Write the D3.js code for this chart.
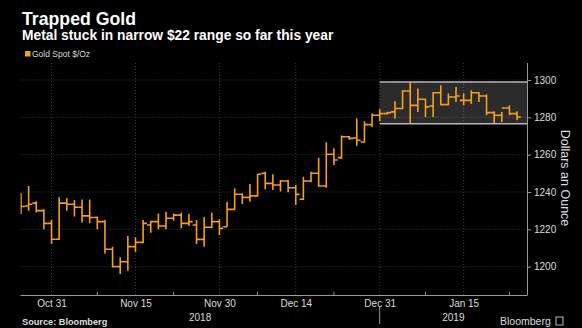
<!DOCTYPE html>
<html>
<head>
<meta charset="utf-8">
<script src="https://cdn.jsdelivr.net/npm/d3@7"></script>
<style>
  html, body { margin: 0; padding: 0; background: #000; }
  svg { display: block; font-family: "Liberation Sans", Arial, sans-serif; }
</style>
</head>
<body>
<svg id="chart" width="582" height="328"></svg>
<script>
// Gold spot, daily bars (weekdays)
var days = [
  "2018-10-25","2018-10-26","2018-10-29","2018-10-30","2018-10-31","2018-11-01","2018-11-02",
  "2018-11-05","2018-11-06","2018-11-07","2018-11-08","2018-11-09","2018-11-12","2018-11-13",
  "2018-11-14","2018-11-15","2018-11-16","2018-11-19","2018-11-20","2018-11-21","2018-11-22",
  "2018-11-23","2018-11-26","2018-11-27","2018-11-28","2018-11-29","2018-11-30","2018-12-03",
  "2018-12-04","2018-12-05","2018-12-06","2018-12-07","2018-12-10","2018-12-11","2018-12-12",
  "2018-12-13","2018-12-14","2018-12-17","2018-12-18","2018-12-19","2018-12-20","2018-12-21",
  "2018-12-24","2018-12-25","2018-12-26","2018-12-27","2018-12-28","2018-12-31","2019-01-01",
  "2019-01-02","2019-01-03","2019-01-04","2019-01-07","2019-01-08","2019-01-09","2019-01-10",
  "2019-01-11","2019-01-14","2019-01-15","2019-01-16","2019-01-17","2019-01-18","2019-01-21",
  "2019-01-22","2019-01-23","2019-01-24"
];
var opens = [
  1233, 1232.5, 1234, 1230, 1223.2, 1214.7, 1234,
  1233.4, 1231.8, 1227.2, 1226.3, 1224.1, 1209.3, 1200,
  1202.6, 1210.7, 1213, 1222.3, 1224.1, 1221.8, 1225.9,
  1227.6, 1223.2, 1222.3, 1214.6, 1221.1, 1224.1, 1221.4,
  1230.7, 1238.8, 1237.1, 1237.9, 1250, 1244.6, 1243.7,
  1245.9, 1242.3, 1236.1, 1245.9, 1250, 1243.2, 1260.2,
  1258.4, 1269.6, 1268.9, 1266.8, 1276.1, 1281.1, 1282,
  1282.9, 1284.7, 1294.1, 1286.4, 1289.7, 1286.1, 1293.2,
  1286.8, 1290.9, 1289.1, 1289.1, 1293.2, 1291.4, 1282.5,
  1281.1, 1285, 1282
];
var highs = [
  1239.3, 1243.2, 1235, 1230.7, 1225, 1237.2, 1236.6,
  1235.7, 1236, 1236, 1226.8, 1225, 1210.7, 1205,
  1216.4, 1215.7, 1225, 1224.6, 1228.5, 1229.4, 1228.5,
  1228.9, 1228.2, 1225, 1226.4, 1228.9, 1225.4, 1234.8,
  1242, 1239.3, 1244.3, 1249.6, 1250.9, 1249.5, 1246.4,
  1246.4, 1243.7, 1248.2, 1250.9, 1258.4, 1266.6, 1263.4,
  1270.2, 1270, 1279.3, 1277.9, 1282, 1284.3, 1283,
  1288.6, 1294.5, 1298.9, 1295.4, 1290, 1293.6, 1297.2,
  1292.7, 1296.3, 1292.7, 1294.5, 1293.6, 1292.2, 1283.2,
  1282.9, 1286.4, 1283.2
];
var lows = [
  1228.2, 1230, 1229, 1220, 1212.2, 1214.3, 1230,
  1226.8, 1223.6, 1223.2, 1220, 1207.1, 1199.6, 1196,
  1197.8, 1208, 1212.5, 1218.2, 1220, 1220, 1224.6,
  1220.5, 1221.8, 1212.1, 1210.7, 1220.5, 1217, 1221.4,
  1230.4, 1233.6, 1234.8, 1237.5, 1241.4, 1241, 1240.2,
  1239.8, 1233, 1235.7, 1245.2, 1242.8, 1242.3, 1254.5,
  1257.7, 1268, 1264.7, 1266.4, 1274.8, 1277.9, 1281.5,
  1279.3, 1284.3, 1276.6, 1282.9, 1280.2, 1280.2, 1286.4,
  1286.4, 1288.2, 1286.4, 1287.3, 1288.2, 1281.1, 1276.6,
  1277.5, 1281.1, 1278.4
];
var closes = [
  1232.2, 1233.4, 1230, 1223.2, 1214.7, 1234, 1233.4,
  1231.8, 1227.2, 1226.3, 1224.1, 1209.3, 1200, 1202.6,
  1210.7, 1213, 1223.2, 1224.1, 1221.8, 1225.9, 1227.6,
  1223.2, 1224.1, 1214.6, 1221.1, 1224.1, 1220.5, 1230.7,
  1238.8, 1237.1, 1237.9, 1249.5, 1244.6, 1243.7, 1245.9,
  1242.3, 1238.7, 1245.9, 1250, 1243.2, 1260.2, 1257.1,
  1269.6, 1268.7, 1267.7, 1276.1, 1281.1, 1282, 1282.5,
  1284.7, 1294.1, 1286.4, 1289.7, 1285.6, 1293.2, 1286.8,
  1290.9, 1291.4, 1289.1, 1293.2, 1291.4, 1282.5, 1281.1,
  1285, 1282, 1280.2
];

var tickDays = ["2018-10-31","2018-11-15","2018-11-30","2018-12-14","2018-12-31","2019-01-15"];
var minorDays = ["2018-11-08","2018-11-22","2018-12-07","2018-12-21","2019-01-08","2019-01-23"];
var yTicks = [1200, 1220, 1240, 1260, 1280, 1300];
var rangeFrom = "2018-12-31"; // box covers the new year's trading range

var orange = "#f6a01c";

var svg = d3.select("#chart");

var plot = { left: 20.5, right: 527, top: 63, bottom: 295 };

var x = d3.scaleLinear().domain([0, 66.3]).range([21, plot.right]);
var y = d3.scaleLinear().domain([1184.8, 1309.1]).range([plot.bottom, plot.top]);
var hw = (x(1) - x(0)) / 2;

var bars = days.map(function (d, i) {
    return { day: d, i: i, o: opens[i], h: highs[i], l: lows[i], c: closes[i] };
});

// Titles
svg.append("text").attr("x", 22).attr("y", 25)
    .attr("fill", "#fff").attr("font-weight", "bold").attr("font-size", 17.7)
    .text("Trapped Gold");
svg.append("text").attr("x", 22).attr("y", 40)
    .attr("fill", "#fff").attr("font-weight", "bold").attr("font-size", 13.8)
    .text("Metal stuck in narrow $22 range so far this year");

// Legend
svg.append("rect").attr("x", 25).attr("y", 51).attr("width", 5.5).attr("height", 5.5).attr("fill", orange);
svg.append("text").attr("x", 32).attr("y", 57)
    .attr("fill", "#ddd").attr("font-size", 8.5)
    .text("Gold Spot $/Oz");

// Grid
var grid = svg.append("g").attr("stroke", "#3c3c3c").attr("stroke-dasharray", "1,2");
grid.selectAll("line.h").data(yTicks).enter().append("line")
    .attr("x1", plot.left).attr("x2", plot.right)
    .attr("y1", function (d) { return y(d); }).attr("y2", function (d) { return y(d); });
grid.selectAll("line.v").data(tickDays).enter().append("line")
    .attr("x1", function (d) { return x(days.indexOf(d)); })
    .attr("x2", function (d) { return x(days.indexOf(d)); })
    .attr("y1", plot.top).attr("y2", plot.bottom);

// Range box since the start of the year
var inRange = bars.filter(function (b) { return b.day > rangeFrom; });
var boxTop = y(d3.max(inRange, function (b) { return b.h; }));
var boxBot = y(d3.min(inRange, function (b) { return b.l; }));
var bx = x(days.indexOf(rangeFrom));
svg.append("rect").attr("x", bx).attr("y", boxTop)
    .attr("width", plot.right - bx).attr("height", boxBot - boxTop)
    .attr("fill", "#ffffff").attr("fill-opacity", 0.17);
[boxTop, boxBot].forEach(function (yy) {
    svg.append("line").attr("x1", bx).attr("x2", plot.right)
        .attr("y1", yy).attr("y2", yy)
        .attr("stroke", "#b8b8b8").attr("stroke-width", 1.5);
});

// Bars: high-low stem, open tick left, close tick right
svg.append("clipPath").attr("id", "clip").append("rect")
    .attr("x", plot.left).attr("y", plot.top)
    .attr("width", plot.right - plot.left).attr("height", plot.bottom - plot.top);

svg.append("g").attr("clip-path", "url(#clip)")
    .selectAll("path").data(bars).enter().append("path")
    .attr("d", function (b) {
        var cx = x(b.i);
        return "M" + cx + "," + y(b.h) + "V" + y(b.l) +
            "M" + (cx - hw) + "," + y(b.o) + "H" + cx +
            "M" + cx + "," + y(b.c) + "H" + (cx + hw);
    })
    .attr("fill", "none")
    .attr("stroke", orange)
    .attr("stroke-width", 1.6);

// Axes
var axisColor = "#9a9a9a";
var fmt = d3.timeFormat("%b %d");
var parse = d3.timeParse("%Y-%m-%d");

var xAxis = d3.axisBottom(x)
    .tickValues(tickDays.map(function (d) { return days.indexOf(d); }))
    .tickSize(0).tickPadding(5)
    .tickFormat(function (i) { return fmt(parse(days[i])); });
var gX = svg.append("g").attr("transform", "translate(0," + plot.bottom + ")").call(xAxis);
gX.select(".domain").attr("stroke", axisColor).attr("d", "M" + plot.left + ",0.5H" + plot.right);
gX.selectAll("text").attr("fill", "#ddd").attr("font-size", 10).attr("font-family", null);

svg.append("g").selectAll("line").data(minorDays).enter().append("line")
    .attr("x1", function (d) { return x(days.indexOf(d)); })
    .attr("x2", function (d) { return x(days.indexOf(d)); })
    .attr("y1", plot.bottom - 3).attr("y2", plot.bottom)
    .attr("stroke", axisColor);

// Year labels under the month ticks
var split = x(days.indexOf(rangeFrom));
svg.append("line").attr("x1", split).attr("x2", split)
    .attr("y1", 307).attr("y2", 324).attr("stroke", axisColor);
[["2018", (plot.left + split) / 2], ["2019", (split + plot.right) / 2]].forEach(function (yr) {
    svg.append("text").attr("x", yr[1]).attr("y", 321)
        .attr("text-anchor", "middle").attr("fill", "#ddd").attr("font-size", 10)
        .text(yr[0]);
});

var yAxis = d3.axisRight(y).tickValues(yTicks).tickSize(4).tickPadding(3)
    .tickFormat(d3.format("d"));
var gY = svg.append("g").attr("transform", "translate(" + plot.right + ",0)").call(yAxis);
gY.select(".domain").attr("stroke", axisColor).attr("d", "M0.5," + plot.top + "V" + (plot.bottom + 0.5));
gY.selectAll(".tick line").attr("stroke", axisColor);
gY.selectAll("text").attr("fill", "#ddd").attr("font-size", 10).attr("font-family", null);

svg.append("text")
    .attr("transform", "translate(561,178) rotate(90)")
    .attr("text-anchor", "middle").attr("fill", "#ddd").attr("font-size", 12.5)
    .text("Dollars an Ounce");

// Footer
svg.append("text").attr("x", 22).attr("y", 325)
    .attr("fill", "#ddd").attr("font-weight", "bold").attr("font-size", 9.2)
    .text("Source: Bloomberg");
svg.append("text").attr("x", 500).attr("y", 325)
    .attr("fill", "#ddd").attr("font-size", 10.5)
    .text("Bloomberg");
svg.append("rect").attr("x", 556).attr("y", 317).attr("width", 7).attr("height", 8)
    .attr("fill", "none").attr("stroke", "#bbb");
</script>
</body>
</html>
